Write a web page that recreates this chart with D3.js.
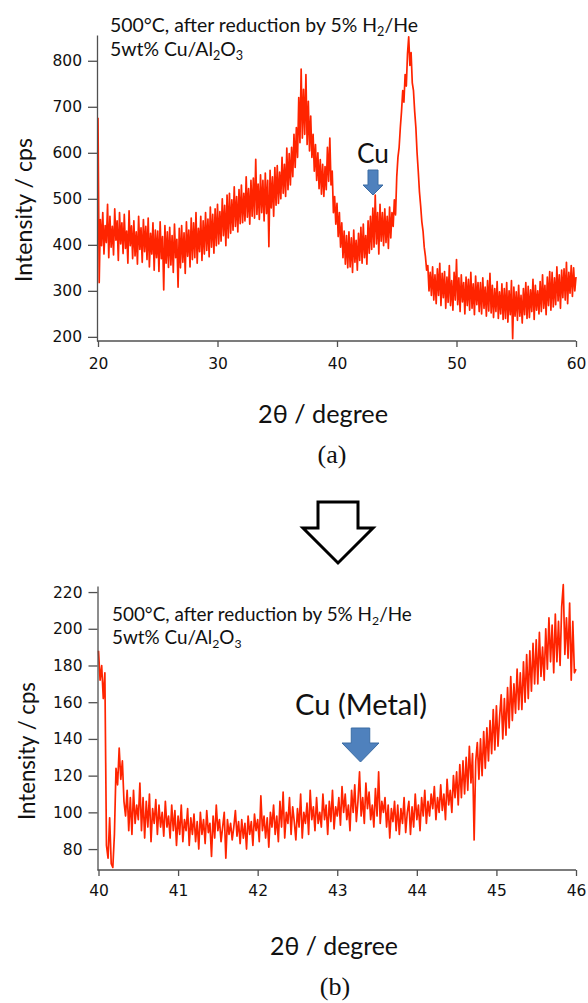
<!DOCTYPE html>
<html><head><meta charset="utf-8">
<script src="https://cdn.jsdelivr.net/npm/d3@7"></script>
<style>body{margin:0;background:#fff} svg{display:block}</style>
</head><body>
<script>
// ---------- data ----------
const scanAStart = 20, scanAStep = 0.1;   // 2θ grid of panel (a)
const intensityA = [
676,318,455,398,470,380,442,405,488,372,
462,395,440,378,478,410,452,366,470,402,
448,381,466,392,430,360,474,398,441,370,
452,376,428,358,462,390,437,362,455,385,
440,368,458,352,425,380,448,345,432,372,
430,342,450,370,418,302,442,360,428,351,
438,356,420,340,445,372,412,308,436,350,
442,362,426,338,450,375,432,352,458,368,
448,372,470,360,436,385,462,366,452,380,
470,388,456,374,482,395,466,382,478,398,
488,402,472,408,500,420,486,398,508,415,
512,425,498,432,526,440,505,428,520,446,
530,448,512,452,548,460,522,445,540,462,
545,458,586,466,532,455,552,470,540,452,
556,468,540,396,562,480,548,462,568,486,
572,490,558,500,590,512,575,505,610,520,
598,530,612,548,640,568,655,590,720,622,
782,632,738,640,770,618,712,604,680,590,
640,560,618,540,600,522,585,510,575,505,
570,520,612,538,632,530,560,470,505,445,
490,418,470,395,448,372,430,358,420,350,
428,352,415,340,432,362,410,345,425,366,
438,360,445,372,420,358,452,382,462,390,
480,395,508,402,470,380,488,408,470,398,
478,405,462,392,482,415,470,440,498,465,
548,590,612,655,690,735,710,770,745,815,
852,790,818,752,735,690,655,600,560,515,
485,450,430,395,375,345,355,300,340,290,
352,280,335,272,348,290,360,268,338,285,
342,262,330,275,355,268,322,258,340,280,
368,270,328,255,335,276,318,250,330,268,
325,258,340,262,315,248,332,270,318,255,
318,250,328,262,308,245,322,256,338,252,
312,242,305,255,320,240,298,250,315,238,
305,240,318,232,300,248,322,196,308,245,
298,236,312,245,290,230,305,248,318,240,
310,242,302,255,325,238,312,258,300,250,
320,255,335,262,312,248,330,268,342,258,
340,265,328,270,352,278,335,262,345,285,
348,280,362,272,340,295,355,288,350,300,
330];

const scanBStart = 40, scanBStep = 0.02;  // 2θ grid of panel (b)
const intensityB = [
188,172,180,162,176,
82,75,97,72,70,
88,124,115,135,118,
128,106,98,112,90,
108,88,112,94,104,
96,116,90,108,86,
106,92,110,84,102,
94,107,88,104,92,
100,87,106,92,98,
86,104,90,101,82,
98,88,104,84,96,
90,102,82,97,88,
99,84,95,80,100,
88,96,83,101,89,
94,76,98,86,104,
90,96,84,92,100,
75,96,88,94,85,
92,101,87,95,83,
96,86,94,80,98,
88,95,82,99,90,
96,84,109,90,98,
86,97,81,100,92,
104,88,98,84,106,
92,111,86,100,94,
108,88,103,95,85,
102,92,110,86,100,
94,105,88,112,96,
103,90,108,94,100,
92,110,96,104,88,
106,95,112,91,103,
98,108,93,114,100,
110,96,104,90,112,
100,115,95,106,122,
98,108,94,116,102,
111,96,104,92,113,
98,122,94,106,100,
108,92,104,86,102,
95,106,90,104,88,
102,94,108,89,100,
106,88,103,92,110,
96,104,90,108,98,
112,94,106,98,110,
102,114,96,108,100,
115,101,110,96,118,
104,112,100,120,108,
122,104,126,108,128,
110,130,112,136,116,
132,85,128,138,118,
140,120,144,124,146,
128,150,132,156,134,
158,136,152,164,140,
162,142,168,146,174,
150,170,154,178,156,
176,156,182,160,186,
162,188,166,192,170,
194,170,198,174,190,
172,200,178,206,182,
202,176,208,182,204,
180,212,224,186,206,
184,214,172,204,176,
178];

const xTicksA = [20, 30, 40, 50, 60];
const yTicksA = [200, 300, 400, 500, 600, 700, 800];
const xTicksB = [40, 41, 42, 43, 44, 45, 46];
const yTicksB = [80, 100, 120, 140, 160, 180, 200, 220];
const xDomainA = [20, 60], yDomainA = [191, 856];
const xDomainB = [40, 46], yDomainB = [68.6, 223.3];

const annotLine1 = [["500°C, after reduction by 5% H"], ["2", true], ["/He"]];
const annotLine2 = [["5wt% Cu/Al"], ["2", true], ["O"], ["3", true]];
const yTitle = "Intensity / cps";
const xTitle = "2θ / degree";

// ---------- drawing ----------
const W = 588, H = 1003;
const svg = d3.select("body").append("svg").attr("width", W).attr("height", H);
const sans = "Lato, 'Open Sans', sans-serif";
const tickFont = "'DejaVu Sans', sans-serif";
const lineColor = "#ff2400";
const axisColor = "#505050";

function fit(t, size, target) {
  const w = t.node().getComputedTextLength();
  return size * target / w;
}

function richText(g, x, y, parts, size) {
  const t = g.append("text").attr("x", x).attr("y", y)
    .attr("font-family", sans).attr("font-size", size).attr("fill", "#111");
  parts.forEach(([s, sub], i) => {
    const sp = t.append("tspan").text(s);
    if (sub) sp.attr("font-size", size * 0.65).attr("dy", size * 0.22);
    else if (i > 0 && parts[i - 1][1]) sp.attr("dy", -size * 0.22);
  });
  return t;
}
function fittedRich(g, x, y, parts, target) {
  const probe = richText(g, x, y, parts, 18);
  let w = 0;
  probe.selectAll("tspan").each(function() { w += this.getComputedTextLength(); });
  probe.remove();
  return richText(g, x, y, parts, 18 * target / w);
}
function fittedText(g, attrs, str, family, target) {
  const t = g.append("text").attr("font-family", family).attr("font-size", 20).attr("fill", "#111").text(str);
  Object.entries(attrs).forEach(([k, v]) => t.attr(k, v));
  t.attr("font-size", fit(t, 20, target));
  return t;
}

function panel(o) {
  const g = svg.append("g");
  const x = d3.scaleLinear().domain(o.xDomain).range([o.left, o.right]);
  const y = d3.scaleLinear().domain(o.yDomain).range([o.bottom, o.top]);

  const line = d3.line()
    .x((d, i) => x(o.start + i * o.step))
    .y(d => y(d));
  g.append("path").datum(o.data).attr("d", line)
    .attr("fill", "none").attr("stroke", lineColor).attr("stroke-width", o.lw)
    .attr("stroke-linejoin", "round");

  const ya = g.append("g").attr("transform", `translate(${o.left - 1},0)`)
    .call(d3.axisLeft(y).tickValues(o.yTicks).tickSize(9).tickSizeOuter(0).tickPadding(6));
  const xa = g.append("g").attr("transform", `translate(0,${o.bottom})`)
    .call(d3.axisBottom(x).tickValues(o.xTicks).tickFormat(d3.format("d"))
      .tickSize(6).tickSizeOuter(0).tickPadding(o.xPad));
  [ya, xa].forEach(a => {
    a.selectAll("path,line").attr("stroke", axisColor).attr("stroke-width", 1.3);
    a.selectAll("text").attr("font-family", tickFont).attr("font-size", 15.5).attr("fill", "#111");
  });
  xa.select("path.domain").attr("d", `M${o.left - 1},0H${o.right}`);

  fittedText(g, { transform: `translate(${o.yTitleX},${o.yTitleY}) rotate(-90)`, "text-anchor": "middle" },
    yTitle, sans, o.yTitleW);
  fittedText(g, { x: o.xTitleX, y: o.xTitleY, "text-anchor": "middle" }, xTitle, sans, o.xTitleW);
  g.append("text").attr("x", o.capX).attr("y", o.capY).attr("text-anchor", "middle")
    .attr("font-family", "'Liberation Serif', 'Times New Roman', serif").attr("font-size", 26)
    .attr("fill", "#111").text(o.caption);

  const a1 = fittedRich(g, o.annX, o.annY1, annotLine1, o.annW);
  const sz = +a1.attr("font-size");
  richText(g, o.annX, o.annY2, annotLine2, sz);

  fittedText(g, { x: o.cuX, y: o.cuY, "text-anchor": "middle" }, o.cuText, sans, o.cuW);
  // blue down arrow
  const a = o.arrow, hw = a.w / 2, sw = a.w / 4;
  g.append("path")
    .attr("d", `M${a.cx - sw},${a.top}H${a.cx + sw}V${a.neck}H${a.cx + hw}L${a.cx},${a.tip}L${a.cx - hw},${a.neck}H${a.cx - sw}Z`)
    .attr("fill", "#4f81bd").attr("stroke", "#3b6ca4").attr("stroke-width", 1);
}

panel({
  xDomain: xDomainA, yDomain: yDomainA, left: 98, right: 576, top: 35, bottom: 341,
  start: scanAStart, step: scanAStep, data: intensityA, lw: 1.7,
  xTicks: xTicksA, yTicks: yTicksA, xPad: 11,
  yTitleX: 32, yTitleY: 210, yTitleW: 144,
  xTitleX: 323, xTitleY: 423, xTitleW: 130,
  capX: 332, capY: 463, caption: "(a)",
  annX: 110, annY1: 32, annY2: 56, annW: 308,
  cuText: "Cu", cuX: 373, cuY: 163, cuW: 32,
  arrow: { cx: 373, w: 20, top: 170, neck: 185, tip: 195 }
});

panel({
  xDomain: xDomainB, yDomain: yDomainB, left: 98.5, right: 576, top: 586, bottom: 870,
  start: scanBStart, step: scanBStep, data: intensityB, lw: 1.7,
  xTicks: xTicksB, yTicks: yTicksB, xPad: 9,
  yTitleX: 35, yTitleY: 751, yTitleW: 138,
  xTitleX: 334, xTitleY: 955, xTitleW: 128,
  capX: 335, capY: 995, caption: "(b)",
  annX: 112, annY1: 621, annY2: 644, annW: 300,
  cuText: "Cu (Metal)", cuX: 361, cuY: 715, cuW: 132,
  arrow: { cx: 360.5, w: 37, top: 728, neck: 743, tip: 762 }
});

// big open arrow between panels
svg.append("path")
  .attr("d", "M318,502H358V528H373L338,563L303,528H318Z")
  .attr("fill", "#fff").attr("stroke", "#000").attr("stroke-width", 3).attr("stroke-linejoin", "miter");
</script>
</body></html>
